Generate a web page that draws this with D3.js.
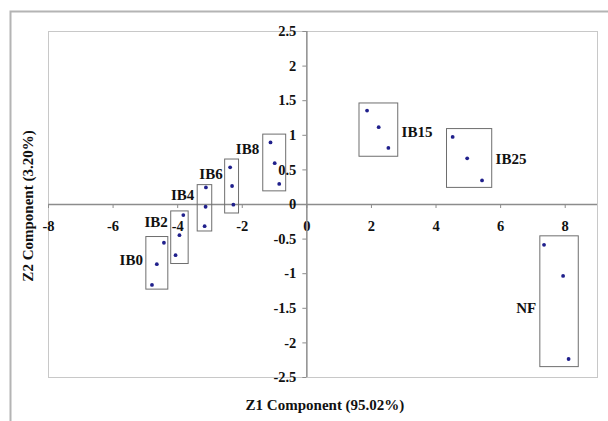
<!DOCTYPE html>
<html>
<head>
<meta charset="utf-8">
<script src="https://cdn.jsdelivr.net/npm/d3@7"></script>
<style>
  body { margin: 0; background: #fff; }
  text { font-family: "Liberation Serif", "Times New Roman", serif; font-weight: bold; fill: #111; }
</style>
</head>
<body>
<div id="chart"></div>
<script>
// groups and their replicate scores (Z1, Z2)
const groups = ["IB0", "IB2", "IB4", "IB6", "IB8", "IB15", "IB25", "NF"]
const z1 = [
  [-4.41, -4.63, -4.78],
  [-3.81, -3.93, -4.05],
  [-3.11, -3.12, -3.15],
  [-2.36, -2.30, -2.26],
  [-1.11, -0.98, -0.84],
  [1.88, 2.24, 2.54],
  [4.53, 4.98, 5.44],
  [7.36, 7.95, 8.12]
]
const z2 = [
  [-0.56, -0.87, -1.17],
  [-0.16, -0.45, -0.74],
  [0.24, -0.04, -0.32],
  [0.53, 0.26, -0.01],
  [0.89, 0.59, 0.29],
  [1.35, 1.11, 0.81],
  [0.97, 0.66, 0.34],
  [-0.59, -1.04, -2.24]
]
// enclosing boxes [z1 min, z1 max, z2 min, z2 max]
const boxes = [
  [-4.97, -4.29, -1.23, -0.47],
  [-4.20, -3.66, -0.86, -0.10],
  [-3.38, -2.93, -0.39, 0.28],
  [-2.53, -2.10, -0.13, 0.65],
  [-1.35, -0.64, 0.19, 1.01],
  [1.63, 2.83, 0.69, 1.46],
  [4.34, 5.74, 0.24, 1.09],
  [7.23, 8.42, -2.35, -0.46]
]
// label anchor (z1, z2) and side of the box
const labelAt = [
  [-5.06, -0.80], [-4.29, -0.25], [-3.47, 0.14], [-2.59, 0.43],
  [-1.46, 0.80], [2.95, 1.05], [5.86, 0.65], [7.12, -1.50]
]
const labelSide = ["left", "left", "left", "left", "left", "right", "right", "left"]

const xTicks = [-8, -6, -4, -2, 0, 2, 4, 6, 8]
const yTicks = [-2.5, -2, -1.5, -1, -0.5, 0, 0.5, 1, 1.5, 2, 2.5]

const W = 608, H = 421
const plot = {left: 48, right: 597, top: 31, bottom: 377}

const svg = d3.select("#chart").append("svg")
  .attr("width", W)
  .attr("height", H)

// outer frame
svg.append("path")
  .attr("d", "M10.5," + H + "V11.5H" + W)
  .attr("fill", "none")
  .attr("stroke", "#b4b4b4")
  .attr("stroke-width", 2)

const x = d3.scaleLinear().domain([-8, 9]).range([plot.left, plot.right])
const y = d3.scaleLinear().domain([-2.5, 2.5]).range([plot.bottom, plot.top])

// plot area border
svg.append("rect")
  .attr("x", plot.left + 0.5)
  .attr("y", plot.top + 0.5)
  .attr("width", plot.right - plot.left)
  .attr("height", plot.bottom - plot.top)
  .attr("fill", "none")
  .attr("stroke", "#c8c8c8")

// x axis through z2 = 0
const xAxis = d3.axisBottom(x)
  .tickValues(xTicks)
  .tickSize(4)
  .tickPadding(13)
  .tickFormat(d => d)   // plain hyphen, like the original

const gX = svg.append("g")
  .attr("transform", "translate(0," + y(0) + ")")
  .call(xAxis)
gX.select(".domain").attr("d", "M" + plot.left + ",0.5H" + plot.right)

// y axis through z1 = 0
const yAxis = d3.axisLeft(y)
  .tickValues(yTicks)
  .tickSize(4)
  .tickPadding(6)
  .tickFormat(d => d)

const gY = svg.append("g")
  .attr("transform", "translate(" + x(0) + ",0)")
  .call(yAxis)
gY.select(".domain").attr("d", "M0.5," + plot.top + "V" + plot.bottom)

svg.selectAll(".domain").attr("stroke", "#8c8c8c").attr("stroke-width", 1.5)
svg.selectAll(".tick line").attr("stroke", "#8c8c8c")
svg.selectAll(".tick text")
  .style("font-size", "14.5px")
  .attr("fill", "#111")

// boxes round each group
svg.append("g").selectAll("rect")
  .data(boxes)
  .join("rect")
  .attr("x", d => x(d[0]))
  .attr("y", d => y(d[3]))
  .attr("width", d => x(d[1]) - x(d[0]))
  .attr("height", d => y(d[2]) - y(d[3]))
  .attr("fill", "none")
  .attr("stroke", "#6e6e6e")
  .attr("stroke-width", 1)

// points
const pts = []
groups.forEach((g, i) => {
  z1[i].forEach((v, j) => pts.push({g: g, z1: v, z2: z2[i][j]}))
})

svg.append("g").selectAll("circle")
  .data(pts)
  .join("circle")
  .attr("cx", d => x(d.z1))
  .attr("cy", d => y(d.z2))
  .attr("r", 1.9)
  .attr("fill", "#20208c")

// group labels
svg.append("g").selectAll("text")
  .data(groups)
  .join("text")
  .attr("x", (d, i) => x(labelAt[i][0]))
  .attr("y", (d, i) => y(labelAt[i][1]))
  .attr("dy", "0.35em")
  .attr("text-anchor", (d, i) => labelSide[i] == "left" ? "end" : "start")
  .style("font-size", "15px")
  .text(d => d)

// axis titles
svg.append("text")
  .attr("x", 325)
  .attr("y", 410)
  .attr("text-anchor", "middle")
  .style("font-size", "15px")
  .text("Z1 Component (95.02%)")

svg.append("text")
  .attr("transform", "translate(33,206) rotate(-90)")
  .attr("text-anchor", "middle")
  .style("font-size", "15px")
  .text("Z2 Component  (3.20%)")
</script>
</body>
</html>
